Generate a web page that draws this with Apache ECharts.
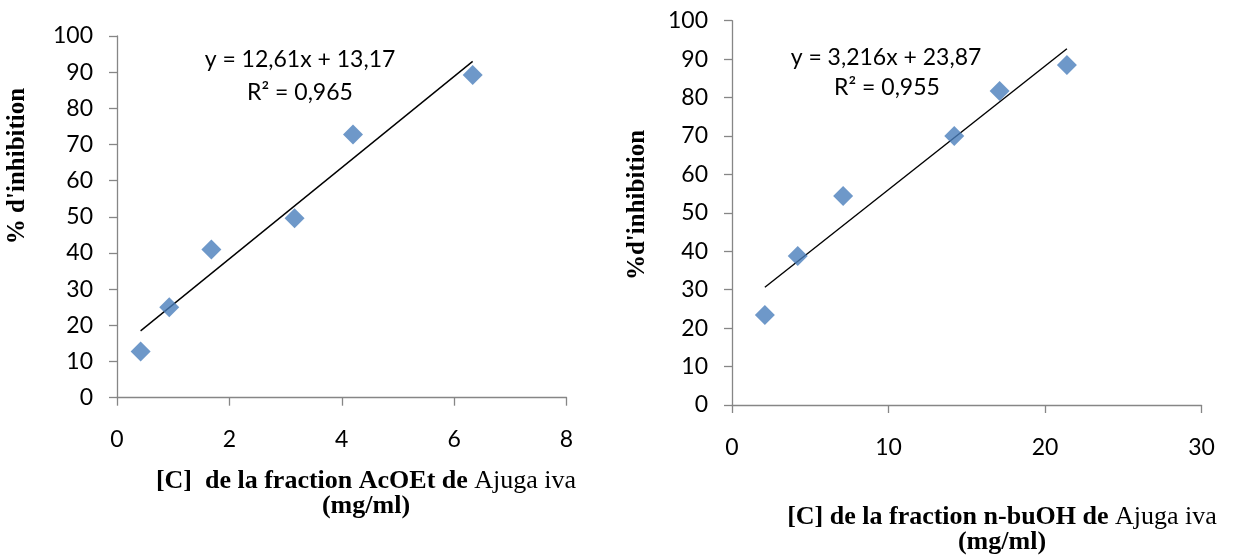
<!DOCTYPE html>
<html>
<head>
<meta charset="utf-8">
<script src="https://cdn.jsdelivr.net/npm/echarts@6/dist/echarts.min.js"></script>
<style>
html,body{margin:0;padding:0;background:#fff;}
#chart{width:1238px;height:555px;}
</style>
</head>
<body>
<div id="chart"></div>
<script>
// Left chart: AcOEt fraction
const acoetConc = [0.42, 0.93, 1.68, 3.16, 4.2, 6.33];
const acoetInhib = [12.8, 25.0, 41.0, 49.6, 72.8, 89.2];
const acoetSlope = 12.61, acoetIntercept = 13.17;
const acoetEq = ['y = 12,61x + 13,17', 'R² = 0,965'];
// Right chart: n-buOH fraction
const buohConc = [2.1, 4.2, 7.1, 14.2, 17.1, 21.4];
const buohInhib = [23.4, 38.8, 54.4, 70.0, 81.7, 88.5];
const buohSlope = 3.216, buohIntercept = 23.87;
const buohEq = ['y = 3,216x + 23,87', 'R² = 0,955'];
// Axis ranges
const leftX = {min: 0, max: 8, interval: 2};
const rightX = {min: 0, max: 30, interval: 10};
const yRange = {min: 0, max: 100, interval: 10};

function pairs(xs, ys){ return xs.map((x,i)=>[x, ys[i]]); }
function trend(xs, a, b){
  const x0 = Math.min(...xs), x1 = Math.max(...xs);
  return [[x0, a*x0+b],[x1, a*x1+b]];
}

const axisColor = '#868686';
const tickFont = {fontFamily:'Lato', fontSize:23, color:'#000'};
function xAxis(idx, r, m){
  return {type:'value', gridIndex: idx, min:r.min, max:r.max, interval:r.interval,
    axisLine:{show:true, onZero:false, lineStyle:{color:axisColor, width:1.3}},
    axisTick:{show:true, inside:false, length:8, lineStyle:{color:axisColor, width:1.3}},
    axisLabel:Object.assign({margin:m}, tickFont),
    splitLine:{show:false}};
}
function yAxis(idx){
  return {type:'value', gridIndex: idx, min:yRange.min, max:yRange.max, interval:yRange.interval,
    axisLine:{show:true, onZero:false, lineStyle:{color:axisColor, width:1.3}},
    axisTick:{show:true, inside:false, length:8, lineStyle:{color:axisColor, width:1.3}},
    axisLabel:Object.assign({margin:24}, tickFont),
    splitLine:{show:false}};
}
const marker = {type:'scatter', symbol:'diamond', symbolSize:[20,20],
  itemStyle:{color:'#4A7EBB'}};
const trendStyle = {type:'line', symbol:'none', lineStyle:{color:'#000', width:1.4}, silent:true};

const titleRich = {
  b:{fontFamily:'Liberation Serif', fontWeight:'bold', fontSize:26, fill:'#000', lineHeight:25},
  n:{fontFamily:'Liberation Serif', fontWeight:'normal', fontSize:26, fill:'#000', lineHeight:25}
};
const eqStyle = {fontFamily:'Lato', fontSize:23, fill:'#000'};
const yTitleStyle = {textAlign:'center', textVerticalAlign:'middle',
  fontFamily:'Liberation Serif', fontWeight:'bold', fontSize:25, fill:'#000'};

const chart = echarts.init(document.getElementById('chart'), null, {renderer:'canvas'});
chart.setOption({
  animation:false,
  backgroundColor:'#fff',
  grid:[
    {left:117, top:36, width:449.5, height:361.7},
    {left:732, top:20.7, width:469.5, height:384.3}
  ],
  xAxis:[xAxis(0,leftX,30), xAxis(1,rightX,31)],
  yAxis:[yAxis(0), yAxis(1)],
  series:[
    Object.assign({}, trendStyle, {xAxisIndex:0, yAxisIndex:0, data:trend(acoetConc, acoetSlope, acoetIntercept), z:1}),
    Object.assign({}, marker, {xAxisIndex:0, yAxisIndex:0, data:pairs(acoetConc, acoetInhib), z:2}),
    Object.assign({}, trendStyle, {xAxisIndex:1, yAxisIndex:1, data:trend(buohConc, buohSlope, buohIntercept), z:1}),
    Object.assign({}, marker, {xAxisIndex:1, yAxisIndex:1, data:pairs(buohConc, buohInhib), z:2})
  ],
  graphic:[
    {type:'text', x:300, y:60, style:Object.assign({text:acoetEq[0], textAlign:'center', textVerticalAlign:'middle'}, eqStyle)},
    {type:'text', x:300, y:93, style:Object.assign({text:acoetEq[1], textAlign:'center', textVerticalAlign:'middle'}, eqStyle)},
    {type:'text', x:886, y:58, style:Object.assign({text:buohEq[0], textAlign:'center', textVerticalAlign:'middle'}, eqStyle)},
    {type:'text', x:887, y:88, style:Object.assign({text:buohEq[1], textAlign:'center', textVerticalAlign:'middle'}, eqStyle)},
    {type:'text', x:18, y:166, rotation:Math.PI/2, style:Object.assign({text:"% d'inhibition"}, yTitleStyle)},
    {type:'text', x:638, y:205, rotation:Math.PI/2, style:Object.assign({text:"%d'inhibition"}, yTitleStyle)},
    {type:'text', x:366, y:494,
      style:{text:'{b|[C]  de la fraction AcOEt de }{n|Ajuga iva}\n{b|(mg/ml)}', rich:titleRich,
        textAlign:'center', textVerticalAlign:'middle'}},
    {type:'text', x:1002, y:530,
      style:{text:'{b|[C] de la fraction n-buOH de }{n|Ajuga iva}\n{b|(mg/ml)}', rich:titleRich,
        textAlign:'center', textVerticalAlign:'middle'}}
  ]
});
</script>
</body>
</html>
